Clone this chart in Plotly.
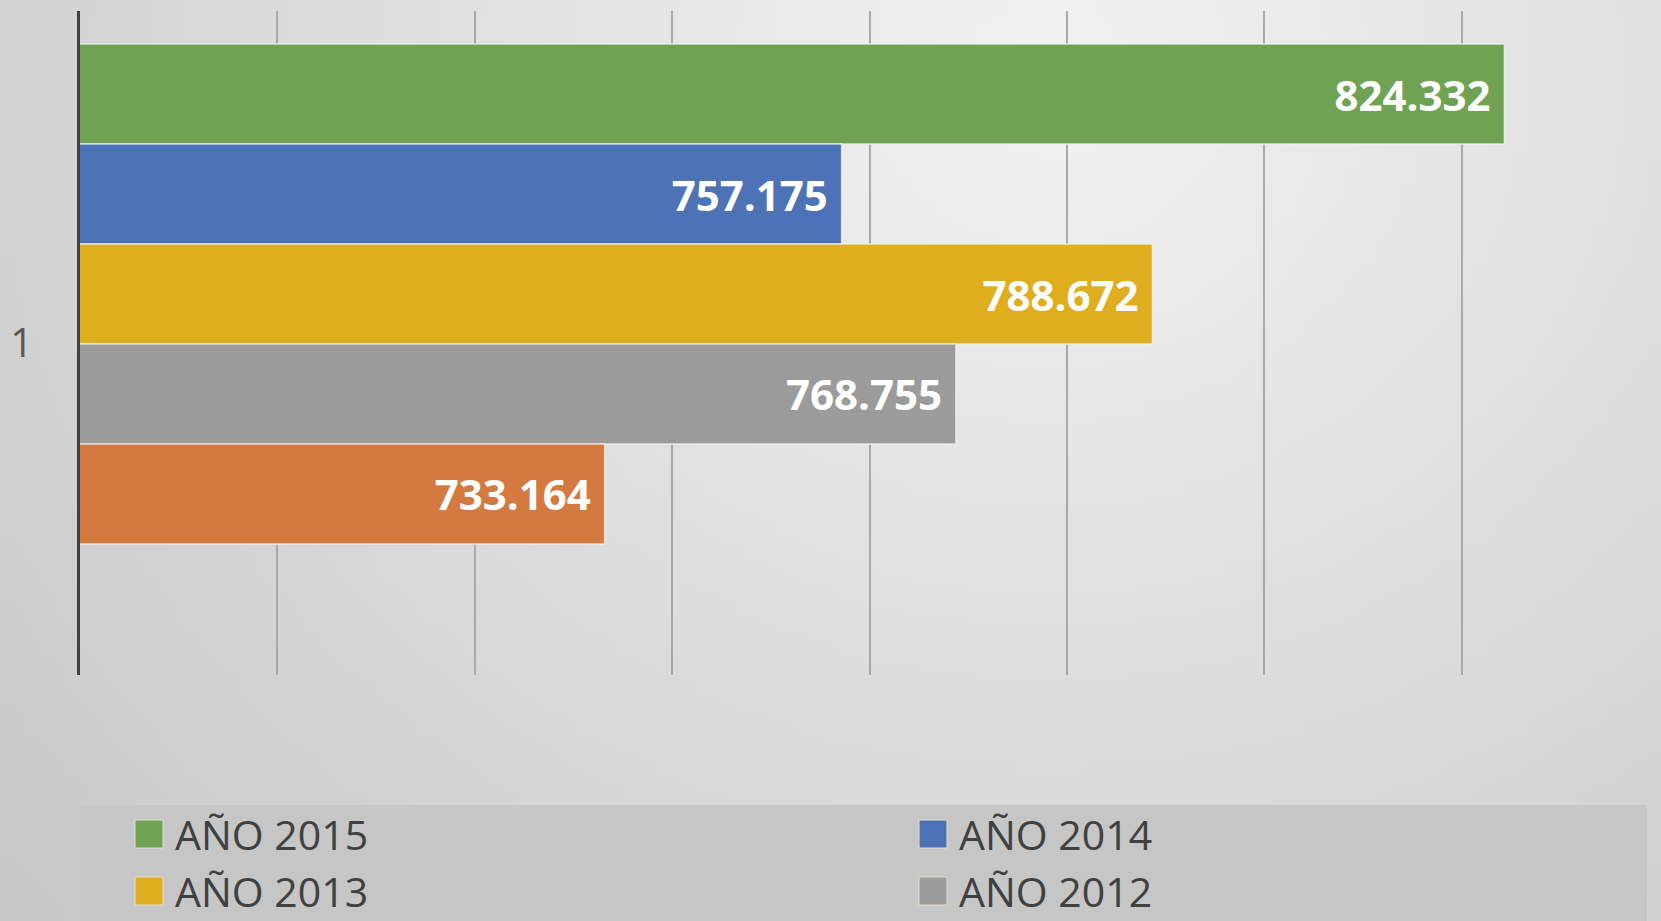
import base64, struct, zlib
import numpy as np
import plotly.graph_objects as go

# ---------------- data ----------------
category = ["1"]
series_names = ["AÑO 2015", "AÑO 2014", "AÑO 2013", "AÑO 2012", "AÑO 2011"]
series_values = [824332, 757175, 788672, 768755, 733164]
series_colors = ["#70a254", "#4e72b6", "#dfae20", "#9b9b9b", "#d47a40"]
x_min, x_max, x_step = 680000, 840000, 20000

# ---------------- layout constants ----------------
W, H = 1661, 921
ML, MR, MT, MB = 80, 2, 11, 246
PW, PH = W - ML - MR, H - MT - MB


def xp(px):
    return (px - ML) / PW


def yp(py):
    return 1 - (py - MT) / PH


# background gradient image (decorative)
def gradient_png(w=166, h=92):
    xs = (np.arange(w) + 0.5) * W / w
    ys = (np.arange(h) + 0.5) * H / h
    X, Y = np.meshgrid(xs, ys)
    r = np.sqrt(((X - 1050) / 1000) ** 2 + ((Y - 80) / 900) ** 2)
    v = np.clip(243 - 31 * r, 195, 245).astype(np.uint8)
    raw = b"".join(b"\x00" + bytes(np.repeat(row, 3)) for row in v)

    def chunk(t, d):
        c = struct.pack(">I", len(d)) + t + d
        return c + struct.pack(">I", zlib.crc32(t + d) & 0xFFFFFFFF)

    png = b"\x89PNG\r\n\x1a\n" + chunk(b"IHDR", struct.pack(">IIBBBBB", w, h, 8, 2, 0, 0, 0))
    png += chunk(b"IDAT", zlib.compress(raw, 9)) + chunk(b"IEND", b"")
    return "data:image/png;base64," + base64.b64encode(png).decode()


fig = go.Figure()
for name, val, col in zip(series_names, series_values, series_colors):
    fig.add_trace(go.Bar(
        y=category, x=[val], name=name, orientation="h",
        marker=dict(color=col, line=dict(color="rgba(240,240,240,0.8)", width=1.5)),
        texttemplate="%{x:,}\u00a0", textposition="inside", insidetextanchor="end",
        textangle=0, constraintext="none",
        textfont=dict(family="Open Sans", size=42, color="white", weight="bold"),
        showlegend=False,
    ))

# manual legend (large swatches)
shapes = [dict(type="rect", xref="paper", yref="paper", x0=xp(80), x1=xp(1647),
               y0=yp(935), y1=yp(805), fillcolor="#c6c6c6", line=dict(width=0), layer="below")]
annotations = []
col_x = [135, 919]
row_y = [834, 891]
for i, (name, col) in enumerate(zip(series_names, series_colors)):
    r, c = divmod(i, 2)
    if r >= len(row_y):
        continue
    sx, cy = col_x[c], row_y[r]
    shapes.append(dict(type="rect", xref="paper", yref="paper",
                       x0=xp(sx), x1=xp(sx + 28), y0=yp(cy + 14), y1=yp(cy - 14),
                       fillcolor=col, line=dict(color="#e6dccb", width=1)))
    annotations.append(dict(xref="paper", yref="paper", x=xp(sx + 38), y=yp(cy),
                            xanchor="left", yanchor="middle", showarrow=False, text=name,
                            font=dict(family="Open Sans", size=41, color="#404040")))

fig.update_layout(
    width=W, height=H,
    margin=dict(l=ML, r=MR, t=MT, b=MB, pad=0),
    paper_bgcolor="#dedede", plot_bgcolor="rgba(0,0,0,0)",
    barmode="group", bargap=0.247,
    separators=",.",
    showlegend=False,
    shapes=shapes, annotations=annotations,
    images=[dict(source=gradient_png(), xref="paper", yref="paper",
                 x=-ML / PW, y=1 + MT / PH, sizex=W / PW, sizey=H / PH,
                 sizing="stretch", xanchor="left", yanchor="top", layer="below")],
    xaxis=dict(range=[x_min, x_max], tick0=x_min, dtick=x_step, showticklabels=False,
               showgrid=True, gridcolor="#a9a9a9", gridwidth=2, zeroline=False,
               showline=False, ticks=""),
    yaxis=dict(type="category", range=[0.5738, -0.4262], showline=True,
               linecolor="#404040", linewidth=3, ticks="", showgrid=False,
               tickfont=dict(family="Open Sans", size=40, color="#595959"),
               ticklabelstandoff=36, ticklabelshift=-49),
)

fig.write_html("out.html", config={"displayModeBar": False})

# remove default page margin so the figure fills the window from its top-left corner
with open("out.html", encoding="utf-8") as f:
    html = f.read()
html = html.replace("<body>", '<body style="margin:0;padding:0;overflow:hidden">', 1)
with open("out.html", "w", encoding="utf-8") as f:
    f.write(html)
